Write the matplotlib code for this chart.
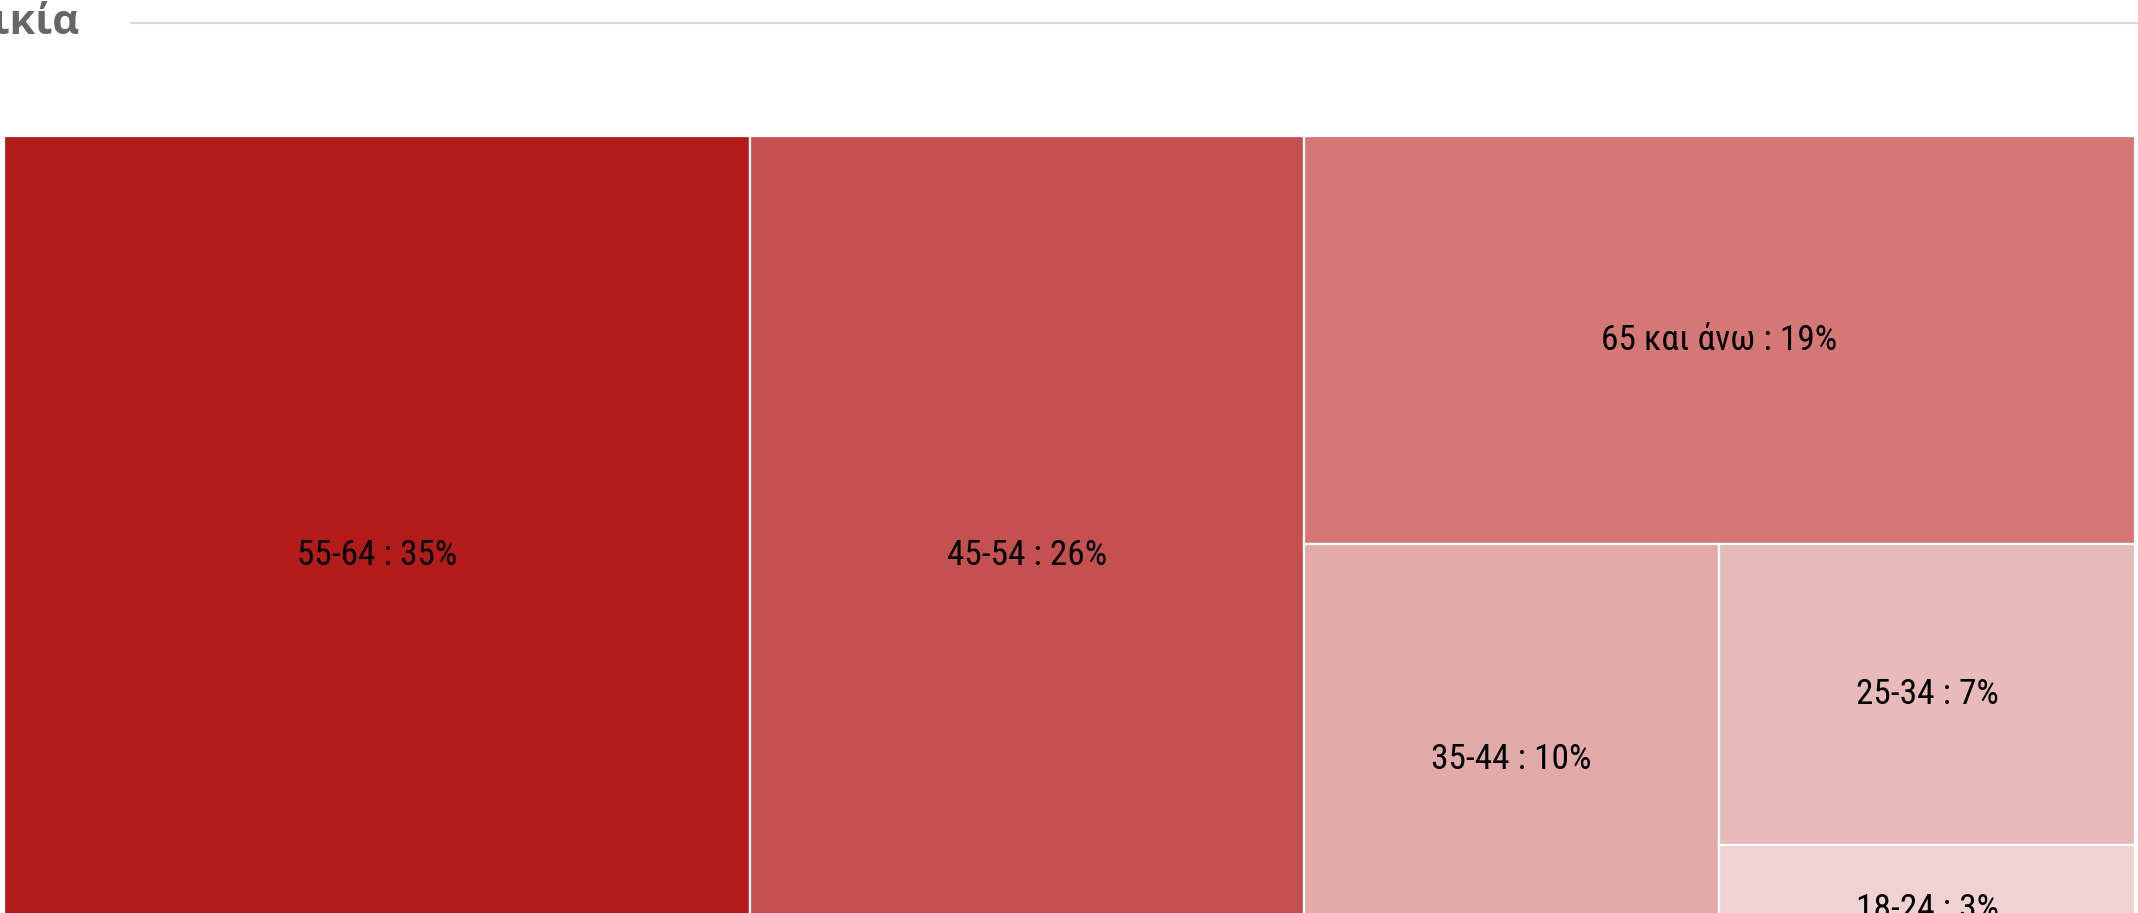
import matplotlib
matplotlib.use('Agg')
import matplotlib.pyplot as plt
from matplotlib import font_manager
from matplotlib.patches import Rectangle
from matplotlib.lines import Line2D

#####
# data
#####
title = 'Ηλικία'
ages = ['55-64', '45-54', '65 και άνω', '35-44', '25-34', '18-24']
shares = [35, 26, 19, 10, 7, 3]
colors = ['#b31b1b', '#c55050', '#d47775', '#e3aaaa', '#e8baba', '#f0d2d3']

# pick a condensed face if one is around
names = set(f.name for f in font_manager.fontManager.ttflist)
label_font = 'Roboto Condensed' if 'Roboto Condensed' in names else 'Roboto'
title_font = 'Open Sans' if 'Open Sans' in names else 'DejaVu Sans'

#####
# squarified treemap layout
#####
def worst(row, side):
	s = sum(row)
	return max(max(side**2 * r / s**2, s**2 / (side**2 * r)) for r in row)

def squarify(areas, x, y, w, h):
	rects = []
	areas = list(areas)
	while areas:
		side = min(w, h)
		row = [areas[0]]
		i = 1
		while i < len(areas) and worst(row + [areas[i]], side) <= worst(row, side):
			row.append(areas[i])
			i += 1
		s = sum(row)
		if w >= h:
			# column on the left
			cw = s / h
			yy = y
			for r in row:
				rects.append((x, yy, cw, r / cw))
				yy += r / cw
			x += cw
			w -= cw
		else:
			# row along the top
			rh = s / w
			xx = x
			for r in row:
				rects.append((xx, y, r / rh, rh))
				xx += r / rh
			y += rh
			h -= rh
		areas = areas[i:]
	return rects

#####
# figure
#####
W, H = 2131.0, 838.0
fig = plt.figure(figsize=(21.38, 9.13), dpi=100)
fig.patch.set_facecolor('white')

# treemap runs past the bottom of the picture
ax = fig.add_axes([4 / 2138, (913 - 974) / 913, W / 2138, H / 913])
ax.set_xlim(0, W)
ax.set_ylim(H, 0)
ax.axis('off')

total = float(sum(shares))
areas = [v / total * W * H for v in shares]
rects = squarify(areas, 0, 0, W, H)

for (rx, ry, rw, rh), age, v, c in zip(rects, ages, shares, colors):
	ax.add_patch(Rectangle((rx, ry), rw, rh, facecolor=c, edgecolor='white', linewidth=1.6))
	ax.text(rx + rw / 2, ry + rh / 2, age + ' : ' + str(v) + '%', ha='center', va='center',
		fontsize=25.5, family=label_font, color='black')

# header
fig.text(79 / 2138, 1 - 34 / 913, title, ha='right', va='baseline', fontsize=30,
	family=title_font, fontweight='bold', color='#666666')
fig.add_artist(Line2D([131 / 2138, 1.0], [1 - 23 / 913, 1 - 23 / 913], color='#d9d9d9', linewidth=1.5))

fig.savefig('out.png', dpi=100, facecolor='white')
